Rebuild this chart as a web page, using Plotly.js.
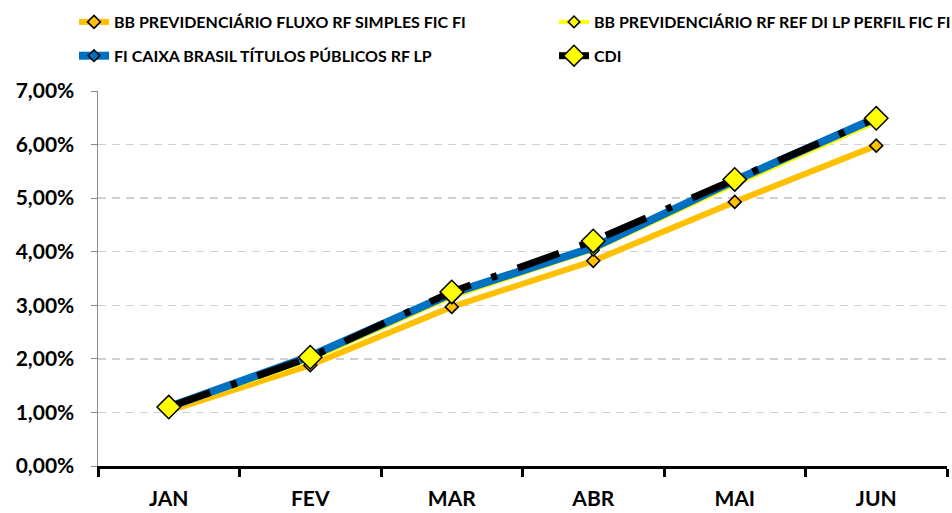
<!DOCTYPE html>
<html><head><meta charset="utf-8">
<script src="https://cdn.plot.ly/plotly-3.0.1.min.js"></script>
<style>html,body{margin:0;padding:0;background:#fff}#chart{width:952px;height:513px}</style>
</head><body><div id="chart"></div>
<script>
const months = ["JAN","FEV","MAR","ABR","MAI","JUN"];
const bbFluxo = [1.03, 1.88, 2.97, 3.83, 4.93, 5.98];
const bbPerfil = [1.07, 1.98, 3.15, 4.03, 5.25, 6.42];
const caixaTP = [1.10, 2.05, 3.22, 4.08, 5.33, 6.50];
const cdi = [1.10, 2.03, 3.25, 4.20, 5.35, 6.49];
const names = ["BB PREVIDENCIÁRIO FLUXO RF SIMPLES FIC FI","BB PREVIDENCIÁRIO RF REF DI LP PERFIL FIC FI","FI CAIXA BRASIL TÍTULOS PÚBLICOS RF LP","CDI"];
const toPct = a => a.map(v => v/100);
const font = "Lato, 'Open Sans', sans-serif";
const traces = [
 {x: months, y: toPct(bbFluxo), name: "<b>"+names[0]+"</b>", legend:"legend", legendgroup:"a", mode: "lines+markers", line:{color:"#FFC000", width:6}, marker:{symbol:"diamond", size:10, color:"#FFC000", line:{color:"#000", width:1.5}}},
 {x: months, y: toPct(bbPerfil), name: "<b>"+names[1]+"</b>", legend:"legend2", legendgroup:"b", mode: "lines+markers", line:{color:"#FFFF00", width:4}, marker:{symbol:"diamond", size:9, color:"#FFFF00", line:{color:"#000", width:1.5}}},
 {x: months, y: toPct(caixaTP), name: "<b>"+names[2]+"</b>", legend:"legend", legendgroup:"c", mode: "lines+markers", line:{color:"#0070C0", width:8}, marker:{symbol:"diamond", size:9, color:"#0070C0", line:{color:"#000", width:1.5}}},
 {x: months, y: toPct(cdi), name: "<b>"+names[3]+"</b>", legend:"legend2", legendgroup:"d", mode: "lines+markers", line:{color:"#000000", width:7, dash:"44px,22px,6px,22px"}, marker:{symbol:"diamond", size:18, color:"#FFFF00", line:{color:"#000", width:1.5}}}
];
const plotW = 952 - 98 - 5, plotH = 513 - 91 - 47;
const legBase = {orientation:"v", xanchor:"left", xref:"paper", yanchor:"top", yref:"paper", y:(513-47-5)/plotH, font:{size:16, family:font, weight:700, color:"#000"}, traceorder:"grouped", tracegroupgap:10, itemwidth:30, bgcolor:"rgba(0,0,0,0)", itemsizing:"trace"};
const layout = {
 width:952, height:513,
 margin:{l:98, r:5, t:91, b:47, autoexpand:false},
 paper_bgcolor:"#fff", plot_bgcolor:"#fff",
 font:{family:font, color:"#000"},
 showlegend:true,
 legend:Object.assign({}, legBase, {x:(74-98)/plotW}),
 legend2:Object.assign({}, legBase, {x:(554-98)/plotW}),
 xaxis:{type:"category", range:[-0.5,5.5], showgrid:false, showline:true, linecolor:"#000", linewidth:3, ticks:"outside", tickson:"boundaries", ticklen:8, tickwidth:3, tickcolor:"#000", tickfont:{size:21, weight:700, family:font}, tickangle:0, ticklabelstandoff:12, zeroline:false, fixedrange:true, automargin:false},
 yaxis:{range:[0,0.07], tickvals:[0,0.01,0.02,0.03,0.04,0.05,0.06,0.07], ticktext:["0,00%","1,00%","2,00%","3,00%","4,00%","5,00%","6,00%","7,00%"], showgrid:true, gridcolor:"#D0D0D0", griddash:"8px,6px", gridwidth:1.5, showline:true, linecolor:"#888", linewidth:1.5, ticks:"outside", ticklen:6, tickcolor:"#888", tickfont:{size:21, weight:700, family:font}, ticklabelstandoff:12, zeroline:false, fixedrange:true, automargin:false}
};
Plotly.newPlot("chart", traces, layout, {staticPlot:true, displayModeBar:false});
</script></body></html>
